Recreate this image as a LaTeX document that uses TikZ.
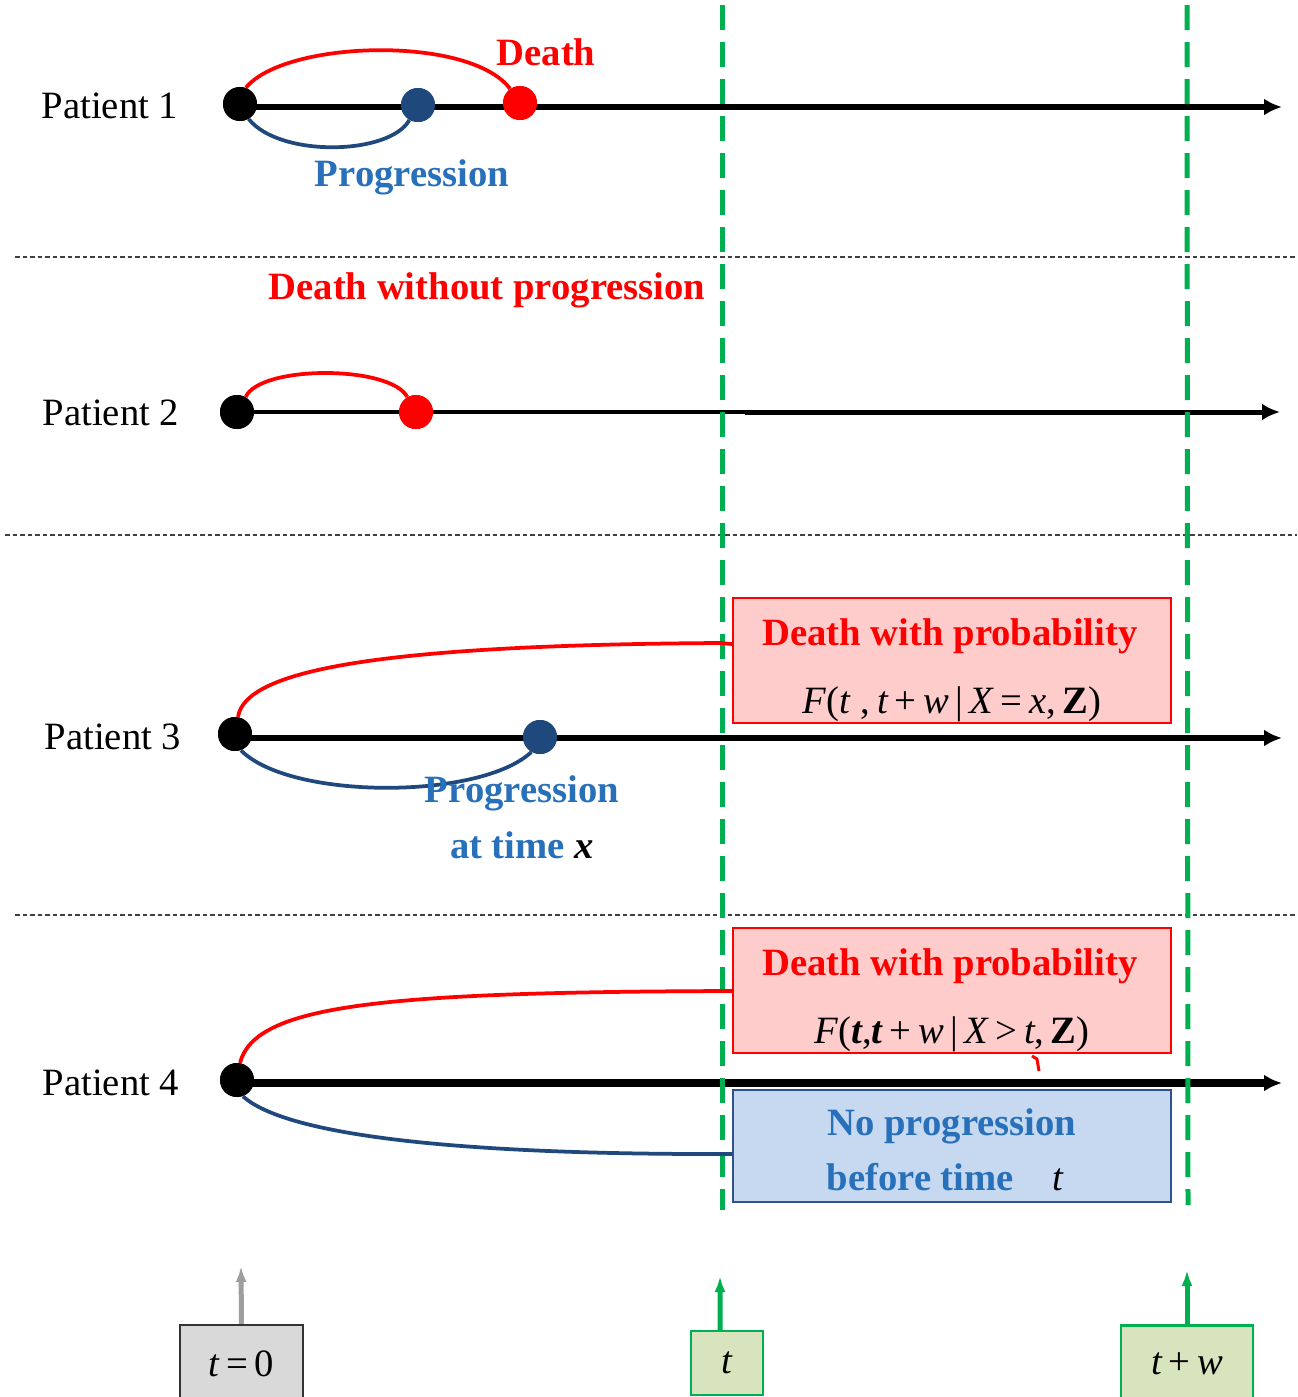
\documentclass[tikz,border=0pt]{standalone}
\usepackage{fontspec}
\setmainfont{Liberation Serif}
\usetikzlibrary{arrows.meta}
\definecolor{dred}{RGB}{255,0,0}
\definecolor{pblue}{RGB}{40,112,185}
\definecolor{nblue}{RGB}{31,73,125}
\definecolor{ggreen}{RGB}{0,176,80}
\definecolor{pinkf}{RGB}{255,204,204}
\definecolor{bluef}{RGB}{198,217,240}
\definecolor{blueb}{RGB}{47,82,143}
\definecolor{greenf}{RGB}{215,228,189}
\definecolor{grayf}{RGB}{217,217,217}
\begin{document}
\begin{tikzpicture}[x=0.2mm,y=-0.2mm,
  font=\fontsize{22}{26}\selectfont,
  dot/.style={circle,inner sep=0pt,minimum size=6.8mm},
  plabel/.style={font=\fontsize{22}{26}\selectfont},
  lbl/.style={font=\fontsize{22}{26}\selectfont\bfseries},
  tline/.style={line width=1.2mm,-{Latex[length=3.6mm,width=3.4mm]}},
  redc/.style={draw=dred,line width=0.75mm},
  bluec/.style={draw=nblue,line width=0.75mm},
  sepline/.style={draw=black!75,line width=0.4mm,dash pattern=on 0.9mm off 0.6mm},
  gdash/.style={draw=ggreen,line width=1mm,dash pattern=on 5mm off 2.4mm},
  rbox/.style={draw=dred,fill=pinkf,line width=0.4mm,minimum width=87.6mm,minimum height=25mm,inner sep=0pt},
  bbox/.style={draw=blueb,fill=bluef,line width=0.4mm,minimum width=87.6mm,minimum height=22.4mm,inner sep=0pt},
  tbox/.style={line width=0.5mm,inner sep=0pt},
  tarrow/.style={line width=1mm,-{Latex[length=3.2mm,width=2.2mm]}}
]
\clip (0,0) rectangle (1297,1397);
\fill[white] (0,0) rectangle (1297,1397);

% separators
\coordinate (s1a) at (15,257);  \coordinate (s1b) at (1297,257);
\coordinate (s2a) at (5,535);   \coordinate (s2b) at (1297,535);
\coordinate (s3a) at (15,915);  \coordinate (s3b) at (1297,915);
\draw[sepline] (s1a) -- (s1b);
\draw[sepline] (s2a) -- (s2b);
\draw[sepline] (s3a) -- (s3b);

% patient labels
\node[plabel] (pl1) at (110,106) {Patient 1};
\node[plabel] (pl2) at (111,413) {Patient 2};
\node[plabel] (pl3) at (113,737) {Patient 3};
\node[plabel] (pl4) at (111,1083) {Patient 4};

% dots
\node[dot,fill=black] (p1k) at (240,104) {};
\node[dot,fill=nblue] (p1bl) at (418,105) {};
\node[dot,fill=dred] (p1r) at (520,103) {};
\node[dot,fill=black] (p2k) at (237,412) {};
\node[dot,fill=dred] (p2r) at (416,412) {};
\node[dot,fill=black] (p3k) at (235,734) {};
\node[dot,fill=nblue] (p3bl) at (540,737) {};
\node[dot,fill=black] (p4k) at (237,1080) {};

% timeline end points
\coordinate (e1) at (1282,107);
\coordinate (m2) at (745,412);
\coordinate (e2) at (1280,412);
\coordinate (e3) at (1282,738);
\coordinate (e4) at (1282,1083);

% timelines
\draw[tline] (p1k.center |- e1) -- (e1);
\draw[line width=0.7mm] (p2k.center) -- (m2);
\draw[tline,line width=1mm] (m2) -- (e2);
\draw[tline,line width=1.3mm] (p3k.center |- e3) -- (e3);
\draw[tline,line width=1.6mm] (p4k.center |- e4) -- (e4);

% boxes
\node[rbox] (b3r) at (952,660.5) {};
\node[rbox] (b4r) at (952,990.5) {};
\node[bbox] (b4b) at (952,1146) {};

% green dashed lines
\coordinate (g1a) at (722,5);  \coordinate (g1b) at (722,1210);
\coordinate (g2a) at (1187,5); \coordinate (g2b) at (1188,1205);
\draw[gdash] (g1a) -- (g1b);
\draw[gdash] (g2a) -- (g2b);

% redraw dots on top
\node[dot,fill=black] at (p1k) {};
\node[dot,fill=nblue] at (p1bl) {};
\node[dot,fill=dred] at (p1r) {};
\node[dot,fill=black] at (p2k) {};
\node[dot,fill=dred] at (p2r) {};
\node[dot,fill=black] at (p3k) {};
\node[dot,fill=nblue] at (p3bl) {};
\node[dot,fill=black] at (p4k) {};

% curves patient 1
\draw[redc] (p1k.70) .. controls (285,40) and (470,35) .. (p1r.125);
\draw[bluec] (p1k.-60) .. controls (280,158) and (390,155) .. (p1bl.-120);
% patient 2
\draw[redc] (p2k.60) .. controls (260,365) and (390,365) .. (p2r.120);
% patient 3
\draw[redc] (p3k.80) .. controls (245,670) and (380,645) .. (720,643) -- ([yshift=-9.4mm]b3r.north west);
\draw[bluec] (p3k.-70) .. controls (290,800) and (480,800) .. (p3bl.-120);
% patient 4
\draw[redc] (p4k.80) .. controls (255,1005) and (380,992) .. ([yshift=-12.8mm]b4r.north west);
\draw[bluec] (p4k.-70) .. controls (280,1130) and (420,1155) .. ([yshift=-13mm]b4b.north west);
\draw[dred,line width=0.6mm] (1032,1056) -- (1037,1059) -- (1039,1071);

% labels
\node[lbl,text=dred] (tdeath) at (546,52) {Death};
\node[lbl,text=pblue] (tprog1) at (412,177) {Progression};
\node[lbl,text=dred] (tdwp) at (487,290) {Death without progression};
\node[lbl,text=pblue] (tprog3) at (522,793) {Progression};
\node[lbl,text=pblue] (tat) at (522,845) {at time \textit{\textcolor{black}{x}}};

\node[lbl,text=dred] (t3a) at (950,636) {Death with probability};
\node (t3b) at (952,704) {\textit{F}(\textit{t} ,\,\textit{t}\,+\,\textit{w}\,|\,\textit{X}\,=\,\textit{x},\,\textbf{Z})};
\node[lbl,text=dred] (t4a) at (950,966) {Death with probability};
\node (t4b) at (952,1034) {\textit{F}(\textit{\textbf{t}},\textit{\textbf{t}}\,+\,\textit{w}\,|\,\textit{X}\,>\,\textit{t},\,\textbf{Z})};
\node[lbl,text=pblue] (t4c) at (952,1126) {No progression};
\node[lbl,text=pblue] (t4d) at (945,1177) {before time\quad{\normalfont\itshape\color{black}t}};

% bottom time markers
\node[tbox,draw=black!80,fill=grayf,minimum width=24.6mm,minimum height=15.6mm] (bt0) at (241.5,1364) {\textit{t}\,=\,0};
\node[tbox,draw=ggreen,fill=greenf,minimum width=14.4mm,minimum height=12.8mm] (bt) at (727,1363) {\textit{t}};
\node[tbox,draw=ggreen,fill=greenf,minimum width=26.4mm,minimum height=15.4mm] (btw) at (1187,1364) {\textit{t}\,+\,\textit{w}};
\coordinate (a0) at (241,1266);
\coordinate (a1) at (720,1276);
\coordinate (a2) at (1187,1270);
\draw[tarrow,draw=black!38] (bt0.north) -- (a0);
\draw[tarrow,draw=ggreen] ([xshift=-1.4mm]bt.north) -- (a1);
\draw[tarrow,draw=ggreen] (btw.north) -- (a2);
\end{tikzpicture}
\end{document}
